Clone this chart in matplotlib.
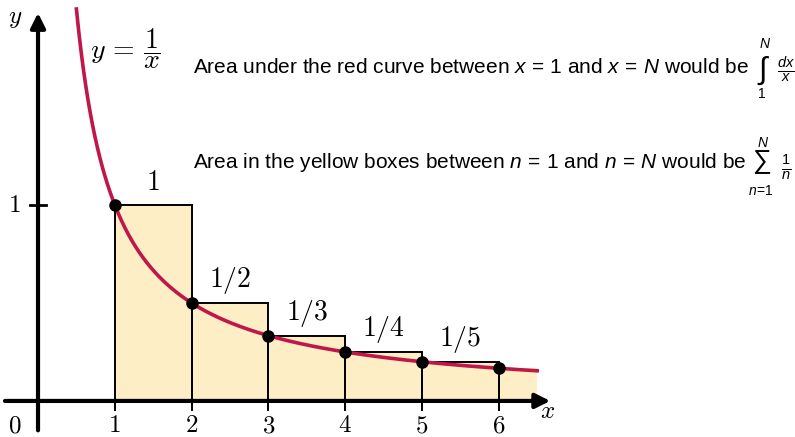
import numpy as np
import matplotlib
matplotlib.use("Agg")
import matplotlib.pyplot as plt
from matplotlib.patches import Rectangle

plt.rcParams["mathtext.fontset"] = "custom"
plt.rcParams["mathtext.rm"] = "Liberation Sans"
plt.rcParams["mathtext.it"] = "Liberation Sans:italic"
plt.rcParams["mathtext.sf"] = "Liberation Sans"

# boxes: left edge n, height 1/n
n_vals = [1, 2, 3, 4, 5, 6]
heights = [1 / n for n in n_vals]
widths = [1, 1, 1, 1, 1, 0.5]
box_labels = ["1", "1/2", "1/3", "1/4", "1/5"]
x_ticks = [1, 2, 3, 4, 5, 6]

curve_x = np.linspace(0.5, 6.5, 400)
curve_y = 1 / curve_x

RED = "#c0174a"
YELLOW = "#fdeec5"

fig = plt.figure(figsize=(7.95, 4.37), dpi=100)
ax = fig.add_axes([0, 0, 1, 1])
ax.set_xlim(-0.495, 9.857)
ax.set_ylim(-0.184, 2.046)
ax.axis("off")

# yellow boxes
for n, h, w in zip(n_vals, heights, widths):
    ax.add_patch(Rectangle((n, 0), w, h, facecolor=YELLOW, edgecolor="none", zorder=1))
    if w == 1:
        ax.add_patch(Rectangle((n, 0), w, h, facecolor="none", edgecolor="black",
                               lw=1.4, zorder=2))
ax.plot([n_vals[-1], n_vals[-1]], [0, heights[-1]], color="black", lw=1.4, zorder=2)

# the curve y = 1/x and sample points
ax.plot(curve_x, curve_y, color=RED, lw=2.6, zorder=3)
ax.plot(n_vals, heights, "o", color="black", ms=8, zorder=4)

# axes with arrow heads
arrow = dict(arrowstyle="-|>", lw=3, color="black", mutation_scale=22,
             shrinkA=0, shrinkB=0)
ax.annotate("", xy=(6.67, 0), xytext=(-0.43, 0), arrowprops=arrow, zorder=5)
ax.annotate("", xy=(0, 1.98), xytext=(0, -0.15), arrowprops=arrow, zorder=5)

cm = dict(math_fontfamily="cm")
for t in x_ticks:
    ax.plot([t, t], [0, -0.045], color="black", lw=1.4)
    ax.text(t, -0.125, f"${t}$", ha="center", va="center", fontsize=18, **cm)
ax.plot([-0.104, 0.104], [1, 1], color="black", lw=2)
ax.text(-0.31, 1.0, "$1$", ha="center", va="center", fontsize=18, **cm)
ax.text(-0.30, -0.125, "$0$", ha="center", va="center", fontsize=18, **cm)
ax.text(6.64, -0.05, "$x$", ha="center", va="center", fontsize=18, **cm)
ax.text(-0.30, 1.955, "$y$", ha="center", va="center", fontsize=18, **cm)

ax.text(1.14, 1.80, r"$y\,=\,\dfrac{1}{x}$", ha="center", va="center", fontsize=20, **cm)

for n, h, lab in zip(n_vals, heights, box_labels):
    ax.text(n + 0.5, h + 0.115, f"${lab}$", ha="center", va="center", fontsize=20, **cm)

sans = dict(math_fontfamily="custom", family="Liberation Sans")
ax.text(2.02, 1.70, r"Area under the red curve between $x\,=\,1$ and $x\,=\,N$ would be",
        ha="left", va="center", fontsize=15, **sans)
ax.text(2.02, 1.215, r"Area in the yellow boxes between $n\,=\,1$ and $n\,=\,N$ would be",
        ha="left", va="center", fontsize=15, **sans)

# integral with limits
ax.text(9.43, 1.685, "\u222b", ha="center", va="center", fontsize=22, **sans)
ax.text(9.47, 1.82, r"$N$", ha="center", va="center", fontsize=10, **sans)
ax.text(9.43, 1.565, "1", ha="center", va="center", fontsize=10, **sans)
ax.text(9.74, 1.694, r"$\frac{dx}{x}$", ha="center", va="center", fontsize=15, **sans)

# sum with limits
ax.text(9.43, 1.22, "\u2211", ha="center", va="center", fontsize=19, **sans)
ax.text(9.44, 1.315, r"$N$", ha="center", va="center", fontsize=10, **sans)
ax.text(9.41, 1.07, r"$n\!=\!1$", ha="center", va="center", fontsize=10, **sans)
ax.text(9.74, 1.19, r"$\frac{1}{n}$", ha="center", va="center", fontsize=15, **sans)

fig.savefig("out.png", dpi=100)
